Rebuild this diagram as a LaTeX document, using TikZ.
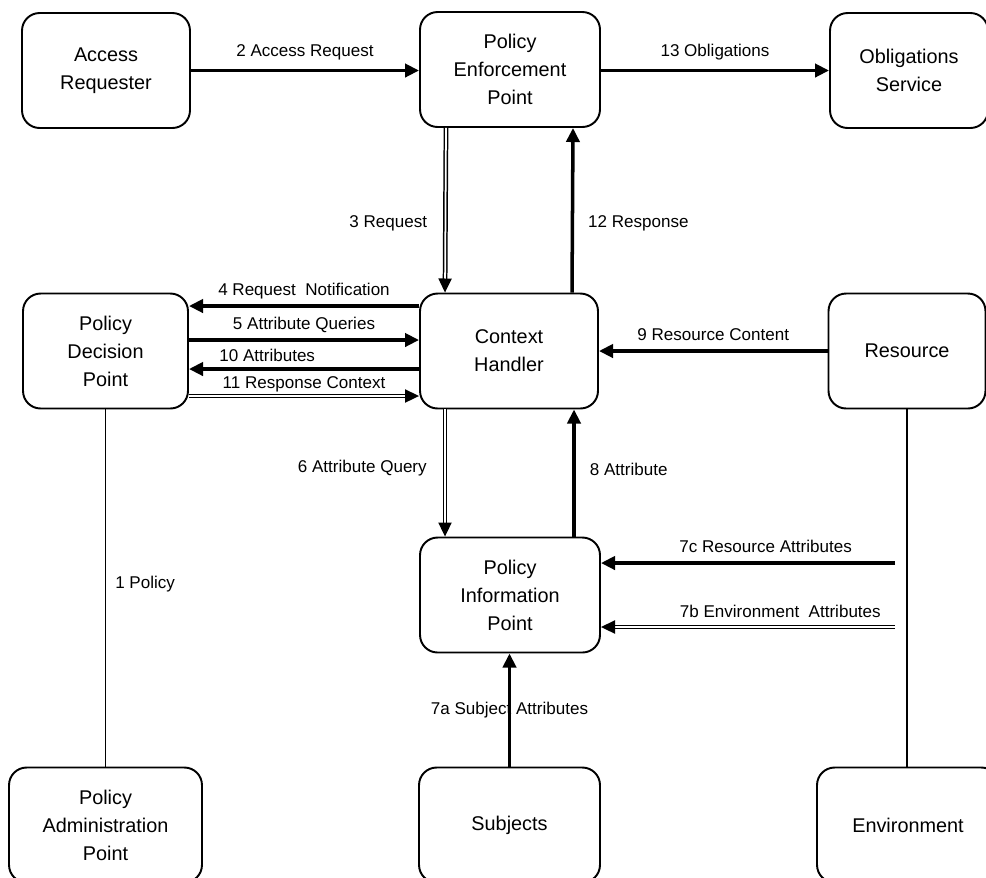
\documentclass[tikz,border=0pt]{standalone}
\usepackage{fontspec}
\setmainfont{Liberation Sans}
\usepackage{tikz}
\usetikzlibrary{arrows.meta, calc}

\newcommand{\boxfont}{\fontsize{11.3}{15.9}\selectfont}
\newcommand{\lblfont}{\fontsize{9.7}{11}\selectfont}

\tikzset{
  component/.style={draw, line width=1.1pt, rounded corners=10pt, minimum height=2.3cm, align=center, font=\boxfont},
  flow/.style={line width=2pt, -{Triangle[length=8pt,width=7.5pt]}},
  dflow/.style={double, line width=0.85pt, double distance=1pt, -{Triangle[length=8pt,width=7.5pt]}},
  link/.style={line width=1.1pt},
  lbl/.style={font=\lblfont, inner sep=2pt},
}

\begin{document}
\begin{tikzpicture}[x=0.02cm, y=-0.02cm]
    \useasboundingbox (0, 0) rectangle (986, 877);

    % Top row
    \node[component, minimum width=3.36cm] (ar) at (106, 70.5) {Access\\Requester};
    \node[component, minimum width=3.6cm] (pep) at (510, 69.5) {Policy\\Enforcement\\Point};
    \node[component, minimum width=3.16cm] (os) at (909, 70.5) {Obligations\\Service};

    % Middle row
    \node[component, minimum width=3.3cm] (pdp) at (105.5, 351) {Policy\\Decision\\Point};
    \node[component, minimum width=3.56cm] (ch) at (509, 351) {Context\\Handler};
    \node[component, minimum width=3.14cm] (res) at (907, 351) {Resource};
    \node[component, minimum width=3.6cm] (pip) at (510, 595) {Policy\\Information\\Point};

    % Bottom row
    \node[component, minimum width=3.86cm] (pap) at (105.5, 825) {Policy\\Administration\\Point};
    \node[component, minimum width=3.62cm] (subj) at (509.5, 825) {Subjects};
    \node[component, minimum width=3.64cm] (env) at (908, 825) {Environment};

    % Free ends of the attribute feeds
    \coordinate (rfeed) at (895, 563);
    \coordinate (efeed) at (895, 627);

    % PEP traffic
    \draw[flow] (ar.east) -- (ar.east -| pep.west) node[lbl, midway, above=3pt] {2 Access Request};
    \draw[flow] (pep.east |- os.west) -- (os.west) node[lbl, midway, above=3pt] {13 Obligations};
    \draw[dflow] ($(pep.south)+(-64,0)$) -- ($(ch.north)+(-64,0)$) node[lbl, pos=0.58, left=8pt] {3 Request};
    \draw[flow] ($(ch.north)+(63,0)$) -- ($(pep.south)+(63,0)$) node[lbl, pos=0.42, right=6pt] {12 Response};

    % PDP <-> context handler
    \draw[flow] ($(ch.west)+(0,-45)$) -- ($(pdp.east)+(0,-45)$) node[lbl, midway, above=1pt] {4 Request\ \ Notification};
    \draw[flow] ($(pdp.east)+(0,-11)$) -- ($(ch.west)+(0,-11)$) node[lbl, midway, above=1pt] {5 Attribute Queries};
    \draw[flow] ($(ch.west)+(0,18)$) -- ($(pdp.east)+(0,18)$) node[lbl, pos=0.66, above=1pt] {10 Attributes};
    \draw[dflow] ($(pdp.east)+(0,45)$) -- ($(ch.west)+(0,45)$) node[lbl, midway, above=0pt] {11 Response Context};

    % Resource content
    \draw[flow] (res.west) -- (res.west -| ch.east) node[lbl, midway, above=3pt] {9 Resource Content};

    % PIP traffic
    \draw[dflow] ($(ch.south)+(-64,0)$) -- ($(pip.north)+(-65,0)$) node[lbl, pos=0.465, left=8pt] {6 Attribute Query};
    \draw[flow] ($(pip.north)+(64,0)$) -- ($(ch.south)+(65,0)$) node[lbl, pos=0.53, right=6pt] {8 Attribute};
    \draw[flow] (subj.north) -- (subj.north |- pip.south) node[lbl, midway] {7a Subject Attributes};
    \draw[flow] (rfeed) -- (rfeed -| pip.east) node[lbl, pos=0.44, above=3pt] {7c Resource Attributes};
    \draw[dflow] (efeed) -- (efeed -| pip.east) node[lbl, pos=0.39, above=3pt] {7b Environment\ \ Attributes};

    % Plain links
    \draw[link] (pdp.south) -- (pap.north) node[lbl, pos=0.49, right=3pt] {1 Policy};
    \draw[link] (res.south) -- (res.south |- env.north);
\end{tikzpicture}
\end{document}
